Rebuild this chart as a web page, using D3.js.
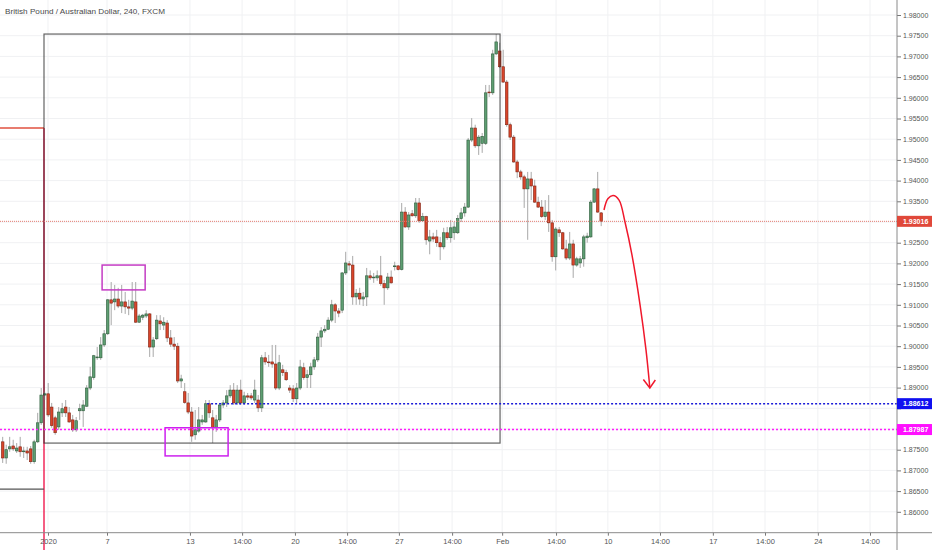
<!DOCTYPE html>
<html><head><meta charset="utf-8">
<script src="https://cdn.jsdelivr.net/npm/d3@7"></script>
<style>
html,body{margin:0;padding:0;background:#fff;}
svg{display:block;font-family:"Liberation Sans",Arial,sans-serif;}
</style></head><body>
<svg id="chart" width="932" height="550"></svg>
<script>
const title = "British Pound / Australian Dollar, 240, FXCM";

const open = [
1.8769,1.8730,1.8752,1.8759,1.8747,1.8757,1.8745,1.8747,1.8752,1.8721,
1.8769,1.8815,1.8882,1.8885,1.8853,1.8827,1.8805,1.8839,1.8853,1.8839,
1.8822,1.8798,1.8844,1.8844,1.8855,1.8899,1.8924,1.8972,1.8972,1.9003,
1.9030,1.9112,1.9107,1.9114,1.9097,1.9107,1.9095,1.9092,1.9107,1.9058,
1.9070,1.9073,1.9078,1.8998,1.9018,1.9061,1.9051,1.9056,1.9020,1.9005,
1.9000,1.8916,1.8890,1.8863,1.8841,1.8786,1.8795,1.8817,1.8817,1.8861,
1.8827,1.8803,1.8822,1.8858,1.8863,1.8880,1.8894,1.8863,1.8894,1.8863,
1.8880,1.8880,1.8870,1.8870,1.8851,1.8972,1.8962,1.8962,1.8957,1.8899,
1.8943,1.8936,1.8899,1.8897,1.8873,1.8899,1.8948,1.8924,1.8931,1.8950,
1.8967,1.9022,1.9037,1.9041,1.9063,1.9100,1.9085,1.9087,1.9177,1.9199,
1.9196,1.9119,1.9128,1.9114,1.9119,1.9170,1.9165,1.9165,1.9170,1.9151,
1.9141,1.9167,1.9192,1.9194,1.9185,1.9324,1.9288,1.9320,1.9315,1.9346,
1.9303,1.9313,1.9254,1.9264,1.9264,1.9250,1.9240,1.9274,1.9262,1.9274,
1.9274,1.9308,1.9322,1.9336,1.9498,1.9527,1.9484,1.9490,1.9490,1.9614,
1.9612,1.9706,1.9713,1.9675,1.9638,1.9535,1.9505,1.9445,1.9421,1.9409,
1.9380,1.9404,1.9387,1.9348,1.9336,1.9313,1.9324,1.9298,1.9216,1.9281,
1.9274,1.9235,1.9213,1.9247,1.9196,1.9201,1.9211,1.9262,1.9264,1.9348,
1.9380,1.9322];

const high = [
1.8781,1.8762,1.8781,1.8774,1.8766,1.8781,1.8757,1.8757,1.8759,1.8774,
1.8839,1.8899,1.8890,1.8911,1.8863,1.8832,1.8853,1.8863,1.8870,1.8853,
1.8834,1.8829,1.8861,1.8870,1.8906,1.8950,1.8979,1.8998,1.9022,1.9039,
1.9114,1.9155,1.9148,1.9141,1.9148,1.9131,1.9112,1.9155,1.9155,1.9078,
1.9078,1.9087,1.9080,1.9022,1.9075,1.9075,1.9070,1.9063,1.9039,1.9022,
1.9008,1.8931,1.8911,1.8887,1.8853,1.8846,1.8853,1.8834,1.8870,1.8870,
1.8846,1.8834,1.8863,1.8870,1.8894,1.8906,1.8911,1.8906,1.8919,1.8890,
1.8887,1.8887,1.8919,1.8882,1.8979,1.8986,1.8979,1.9003,1.9003,1.8979,
1.8955,1.8943,1.8906,1.8906,1.8911,1.8967,1.8960,1.8943,1.8960,1.8974,
1.9032,1.9046,1.9051,1.9070,1.9112,1.9104,1.9092,1.9179,1.9228,1.9206,
1.9218,1.9138,1.9141,1.9131,1.9189,1.9183,1.9177,1.9183,1.9218,1.9160,
1.9177,1.9183,1.9204,1.9196,1.9346,1.9336,1.9324,1.9329,1.9358,1.9358,
1.9322,1.9315,1.9281,1.9274,1.9281,1.9264,1.9286,1.9288,1.9305,1.9300,
1.9317,1.9334,1.9346,1.9503,1.9551,1.9535,1.9510,1.9515,1.9631,1.9631,
1.9716,1.9754,1.9733,1.9716,1.9643,1.9540,1.9510,1.9450,1.9426,1.9414,
1.9421,1.9421,1.9402,1.9361,1.9353,1.9353,1.9365,1.9305,1.9288,1.9288,
1.9276,1.9257,1.9276,1.9257,1.9216,1.9218,1.9269,1.9274,1.9353,1.9382,
1.9421,1.9324];

const low = [
1.8718,1.8716,1.8745,1.8747,1.8742,1.8733,1.8730,1.8725,1.8716,1.8716,
1.8766,1.8810,1.8870,1.8829,1.8803,1.8786,1.8798,1.8829,1.8829,1.8815,
1.8793,1.8793,1.8822,1.8805,1.8853,1.8894,1.8919,1.8967,1.8967,1.8998,
1.9027,1.9051,1.9087,1.9092,1.9080,1.9078,1.9075,1.9087,1.9056,1.9056,
1.9063,1.9068,1.8974,1.8974,1.9015,1.9039,1.9039,1.9010,1.8998,1.8991,
1.8911,1.8899,1.8861,1.8836,1.8769,1.8774,1.8791,1.8810,1.8815,1.8827,
1.8766,1.8793,1.8817,1.8851,1.8853,1.8875,1.8858,1.8858,1.8858,1.8858,
1.8870,1.8870,1.8863,1.8841,1.8841,1.8955,1.8950,1.8948,1.8894,1.8894,
1.8928,1.8916,1.8887,1.8865,1.8863,1.8894,1.8919,1.8899,1.8899,1.8943,
1.8962,1.8998,1.9032,1.9039,1.9058,1.9056,1.9070,1.9080,1.9172,1.9183,
1.9100,1.9100,1.9100,1.9097,1.9097,1.9160,1.9153,1.9158,1.9146,1.9100,
1.9136,1.9151,1.9183,1.9183,1.9183,1.9286,1.9281,1.9313,1.9310,1.9298,
1.9300,1.9245,1.9222,1.9252,1.9240,1.9208,1.9234,1.9257,1.9250,1.9257,
1.9271,1.9300,1.9313,1.9334,1.9493,1.9479,1.9462,1.9467,1.9486,1.9602,
1.9607,1.9703,1.9672,1.9636,1.9530,1.9498,1.9443,1.9406,1.9402,1.9334,
1.9257,1.9353,1.9346,1.9334,1.9310,1.9305,1.9276,1.9204,1.9183,1.9264,
1.9233,1.9208,1.9208,1.9165,1.9192,1.9189,1.9192,1.9250,1.9262,1.9346,
1.9322,1.9290];

const close = [
1.8730,1.8750,1.8757,1.8752,1.8754,1.8745,1.8747,1.8742,1.8721,1.8769,
1.8815,1.8882,1.8885,1.8834,1.8808,1.8791,1.8841,1.8849,1.8839,1.8817,
1.8798,1.8820,1.8849,1.8858,1.8899,1.8926,1.8977,1.8974,1.9003,1.9030,
1.9112,1.9104,1.9114,1.9097,1.9107,1.9095,1.9092,1.9109,1.9058,1.9073,
1.9075,1.9078,1.8998,1.9015,1.9063,1.9054,1.9058,1.9020,1.9005,1.9000,
1.8916,1.8921,1.8864,1.8841,1.8783,1.8798,1.8822,1.8822,1.8861,1.8839,
1.8803,1.8822,1.8858,1.8863,1.8880,1.8894,1.8863,1.8894,1.8863,1.8880,
1.8877,1.8875,1.8894,1.8851,1.8972,1.8962,1.8960,1.8957,1.8899,1.8960,
1.8936,1.8919,1.8894,1.8873,1.8899,1.8950,1.8924,1.8931,1.8950,1.8967,
1.9022,1.9037,1.9041,1.9063,1.9100,1.9085,1.9080,1.9177,1.9201,1.9196,
1.9119,1.9128,1.9114,1.9119,1.9170,1.9165,1.9167,1.9170,1.9151,1.9141,
1.9167,1.9153,1.9194,1.9185,1.9324,1.9288,1.9317,1.9315,1.9346,1.9303,
1.9313,1.9257,1.9264,1.9259,1.9250,1.9240,1.9274,1.9262,1.9286,1.9288,
1.9308,1.9322,1.9336,1.9498,1.9527,1.9484,1.9505,1.9507,1.9612,1.9612,
1.9706,1.9735,1.9675,1.9638,1.9535,1.9505,1.9445,1.9421,1.9409,1.9380,
1.9404,1.9387,1.9348,1.9336,1.9313,1.9324,1.9298,1.9216,1.9283,1.9274,
1.9235,1.9213,1.9247,1.9196,1.9211,1.9211,1.9264,1.9266,1.9348,1.9380,
1.9324,1.9302];

const priceTicks = [1.860,1.865,1.870,1.875,1.880,1.885,1.890,1.895,1.900,1.905,1.910,1.915,1.920,1.925,1.930,1.935,1.940,1.945,1.950,1.955,1.960,1.965,1.970,1.975,1.980];
const timeTickIdx = [12.94,29.8,53.5,68.4,83.5,98.4,113.2,128.4,142.7,158.1,172.9,187.8,202.9,217.8,232.9,247.8];
const timeTickLabels = ["2020","7","13","14:00","20","14:00","27","14:00","Feb","14:00","10","14:00","17","14:00","24","14:00"];

// price levels with labels on the axis
const levelValues = [1.93016, 1.88612, 1.87987];
const levelLabels = ["1.93016", "1.88612", "1.87987"];
const blueLineStartIdx = 58.4;

// drawings (index, price)
const bigBox = [11.8, 142.1, 1.9754, 1.8766];
const topBox = [28.4, 40.7, 1.9196, 1.9136];
const bottomBox = [46.4, 64.4, 1.8803, 1.8735];
const markerIdx = 11.8;
const redMarkPrice = 1.9527;
const blackMarkPrice = 1.8655;
const arrowPts = [[171.8,1.9329],[172.9,1.9356],[174.4,1.9364],[176.1,1.9353],[177.8,1.9300],[179.8,1.9220],[182.1,1.9100],[183.8,1.8991],[184.9,1.8899]];

const W = 932, H = 550, plotR = 897, axisY = 532.7;
const svg = d3.select("#chart");
const x = d3.scaleLinear().domain([0, 171]).range([2.7, 601.2]);
const y = d3.scaleLinear().domain([1.86, 1.98]).range([511.8, 15]);

// grid
const grid = svg.append("g");
grid.selectAll(".hg").data(priceTicks).join("line")
  .attr("x1", 0).attr("x2", plotR).attr("y1", d => y(d)).attr("y2", d => y(d))
  .attr("stroke", "#f0f1f3").attr("stroke-width", 1);
grid.selectAll(".vg").data(timeTickIdx).join("line")
  .attr("x1", d => x(d)).attr("x2", d => x(d)).attr("y1", 0).attr("y2", axisY)
  .attr("stroke", "#f0f1f3").attr("stroke-width", 1);

// title
svg.append("text").attr("x", 5).attr("y", 13.5).text(title)
  .attr("font-size", 8).attr("fill", "#4a4a4a")
  .attr("textLength", 160).attr("lengthAdjust", "spacingAndGlyphs");

// red vertical marker and left marks
svg.append("line").attr("x1", x(markerIdx)).attr("x2", x(markerIdx))
  .attr("y1", y(redMarkPrice)).attr("y2", H)
  .attr("stroke", "#f0285a").attr("stroke-width", 1.5);
svg.append("line").attr("x1", 0).attr("x2", x(markerIdx))
  .attr("y1", y(redMarkPrice)).attr("y2", y(redMarkPrice))
  .attr("stroke", "#e0513f").attr("stroke-width", 1.5);
svg.append("line").attr("x1", 0).attr("x2", x(markerIdx))
  .attr("y1", y(blackMarkPrice)).attr("y2", y(blackMarkPrice))
  .attr("stroke", "#555").attr("stroke-width", 1.2);

// candles
const idx = d3.range(open.length);
const bw = 2.6;
const cg = svg.append("g");
cg.selectAll(".wick").data(idx).join("line")
  .attr("x1", i => x(i)).attr("x2", i => x(i))
  .attr("y1", i => y(high[i])).attr("y2", i => y(low[i]))
  .attr("stroke", "#a8a8a8").attr("stroke-width", 1);
cg.selectAll(".body").data(idx).join("rect")
  .attr("x", i => x(i) - bw / 2).attr("width", bw)
  .attr("y", i => y(Math.max(open[i], close[i])))
  .attr("height", i => Math.max(0.8, Math.abs(y(open[i]) - y(close[i]))))
  .attr("fill", i => close[i] >= open[i] ? "#5e9e72" : "#d9452b")
  .attr("stroke", i => close[i] >= open[i] ? "#2f5c3c" : "#7e2616")
  .attr("stroke-width", 0.6);

// boxes
function box(b, color, w) {
  svg.append("rect").attr("x", x(b[0])).attr("y", y(b[2]))
    .attr("width", x(b[1]) - x(b[0])).attr("height", y(b[3]) - y(b[2]))
    .attr("fill", "none").attr("stroke", color).attr("stroke-width", w);
}
box(bigBox, "rgba(40,40,40,0.72)", 1.2);
box(topBox, "#c43cc4", 1.5);
box(bottomBox, "#cc22ee", 1.5);

// level lines
svg.append("line").attr("x1", 0).attr("x2", plotR)
  .attr("y1", y(levelValues[0])).attr("y2", y(levelValues[0]))
  .attr("stroke", "#e57b72").attr("stroke-width", 1).attr("stroke-dasharray", "1,1");
svg.append("line").attr("x1", x(blueLineStartIdx)).attr("x2", plotR)
  .attr("y1", y(levelValues[1])).attr("y2", y(levelValues[1]))
  .attr("stroke", "#1a1ad8").attr("stroke-width", 1.5).attr("stroke-dasharray", "2,2");
svg.append("line").attr("x1", 0).attr("x2", plotR)
  .attr("y1", y(levelValues[2])).attr("y2", y(levelValues[2]))
  .attr("stroke", "#ff1cff").attr("stroke-width", 1.4).attr("stroke-dasharray", "2,2");

// arrow
const line = d3.line().x(d => x(d[0])).y(d => y(d[1])).curve(d3.curveCatmullRom.alpha(0.5));
svg.append("path").attr("d", line(arrowPts)).attr("fill", "none")
  .attr("stroke", "#f0182c").attr("stroke-width", 1.5);
const tip = arrowPts[arrowPts.length - 1];
const tx = x(tip[0]), ty = y(tip[1]);
svg.append("path").attr("d", `M${tx-6.5},${ty-8.5}L${tx},${ty}L${tx+5.5},${ty-8}`)
  .attr("fill", "none").attr("stroke", "#f0182c").attr("stroke-width", 1.5);

// axes
const yAxis = d3.axisRight(y).tickValues(priceTicks).tickFormat(d3.format(".5f")).tickSize(4).tickPadding(2);
const ya = svg.append("g").attr("transform", `translate(${plotR},0)`).call(yAxis);
ya.select(".domain").remove();
ya.selectAll("line").attr("stroke", "#777");
ya.selectAll("text").attr("font-size", 7).attr("fill", "#555")
  .attr("font-family", "Liberation Sans, Arial, sans-serif");
// price labels hidden behind the level boxes are left out, as the boxes cover them
ya.selectAll(".tick").filter(d => levelValues.some(v => Math.abs(y(v) - y(d)) < 9))
  .select("text").remove();

const xAxis = d3.axisBottom(x).tickValues(timeTickIdx).tickFormat((d, i) => timeTickLabels[i]).tickSize(3).tickPadding(3);
const xa = svg.append("g").attr("transform", `translate(0,${axisY})`).call(xAxis);
xa.select(".domain").remove();
xa.selectAll("line").attr("stroke", "#777");
xa.selectAll("text").attr("font-size", 7.5).attr("fill", "#555")
  .attr("font-family", "Liberation Sans, Arial, sans-serif");

svg.append("line").attr("x1", 0).attr("x2", W).attr("y1", axisY).attr("y2", axisY)
  .attr("stroke", "#8a8a8a").attr("stroke-width", 1);
svg.append("line").attr("x1", plotR).attr("x2", plotR).attr("y1", 0).attr("y2", H)
  .attr("stroke", "#8a8a8a").attr("stroke-width", 1);

// level labels
const levelColors = ["#e0483a", "#1010f0", "#ff10ff"];
levelValues.forEach((v, k) => {
  svg.append("rect").attr("x", plotR).attr("y", y(v) - 5.5).attr("width", W - plotR).attr("height", 11)
    .attr("fill", levelColors[k]);
  svg.append("text").attr("x", plotR + 6).attr("y", y(v) + 2.5).text(levelLabels[k])
    .attr("font-size", 7).attr("font-weight", "bold").attr("fill", "#fff");
});
</script>
</body></html>
